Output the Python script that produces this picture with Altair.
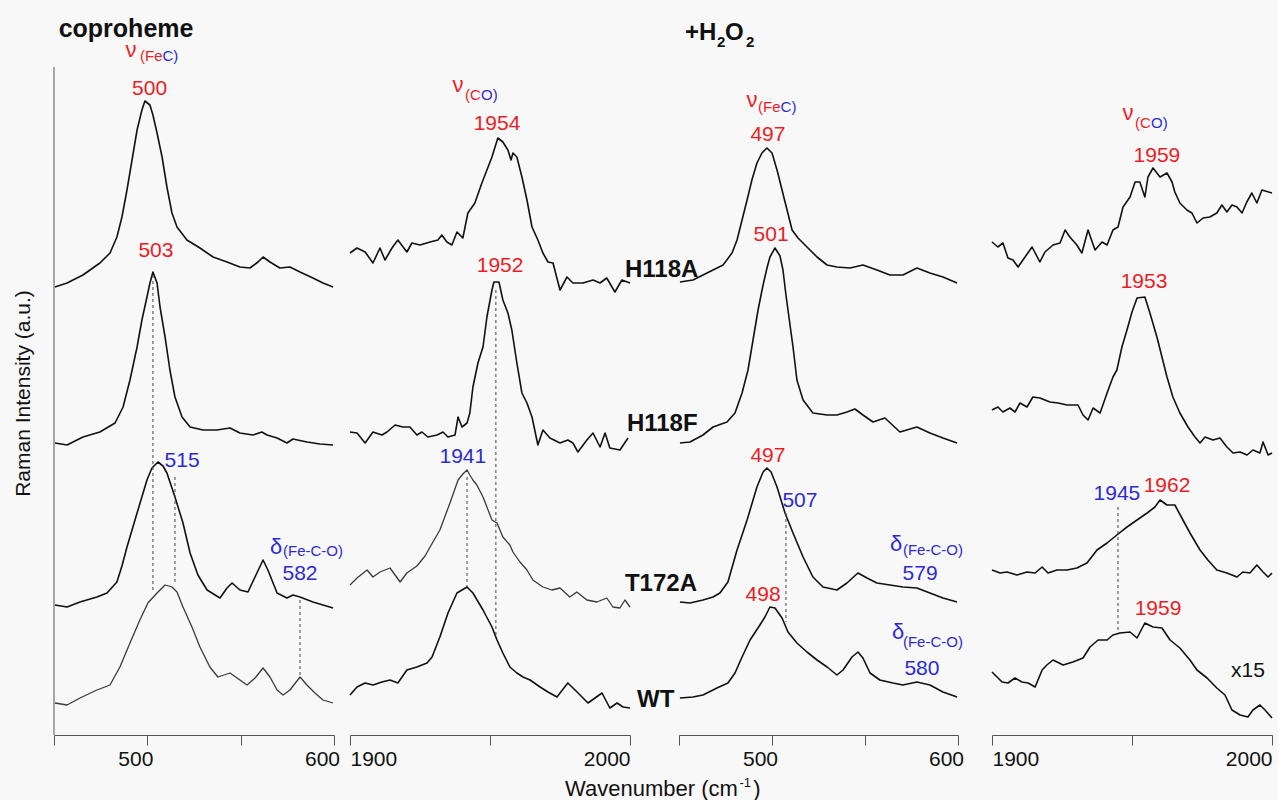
import altair as alt
import pandas as pd

FONT = "Liberation Sans"
RED = "#ec1c24"
BLUE = "#2b2bd3"
INK = "#111111"
AXC = "#555555"

# ---------------- coproheme, 450-600 cm-1 ----------------
cl_H118A_x = [450.5,457,465.5,474.6,480,483.7,486.4,489.1,491.8,494.5,497.1,498.7,501.4,503,505.2,507.9,510.5,513.2,515.9,521.2,528.2,535.2,542.7,549.6,555,559.3,562,565.7,571,576.4,581.8,588.7,594.1,599.5]
cl_H118A_y = [448,452,460,472,482,498,518,545,575,605,625,634,630,620,602,578,548,522,508,495,487,478,473,468,467,473,478,473,467,468,463,457,452,448]
cl_H118F_x = [450.5,457,465.5,474.6,482.7,487,490.7,494.5,497.1,499.8,501.4,503,505.2,506.8,509.5,512.1,514.8,518.6,522.9,529.8,537.3,544.3,549.6,556.6,561.4,564.1,569.5,574.8,578,585.5,592.5,599.5]
cl_H118F_y = [292,290,298,303,312,328,355,388,415,438,452,463,452,428,398,365,338,318,308,305,305,307,302,300,303,300,297,292,296,293,291,290]
cl_T172A_x = [450.5,457,463.9,473,478.4,483.7,486.4,489.1,494.5,499.8,502.5,505.7,508.4,510.5,514.8,519.1,522.9,527.1,532,538.9,542.7,545.4,549.6,553.9,558.7,562,564.6,569.5,574.8,578,581.8,588.7,594.1,599.5]
cl_T172A_y = [130,128,133,138,142,153,169,188,222,255,267,273,269,262,238,212,182,160,145,137,147,152,145,143,162,175,165,142,137,140,138,133,130,127]
cl_WT_x = [450.5,457,463.9,473,480,485.3,490.7,496,500.3,505.2,509.5,513.2,515.9,519.1,523.9,528.2,533.5,537.8,544.3,549.6,553.4,557.7,562,565.7,569.5,572.7,576.4,581.8,585.5,589.8,594.1,599.5]
cl_WT_y = [32,30,37,45,50,68,92,115,132,142,150,148,143,128,108,88,68,58,62,55,50,57,67,58,45,40,45,58,50,42,35,32]

# ---------------- coproheme, 1900-2000 cm-1 ----------------
ch_H118A_x = [1900,1902.5,1905.4,1908.2,1910.7,1912.5,1915,1917.1,1920.3,1922.1,1925,1928.6,1931.4,1932.8,1934.6,1936.4,1938.2,1940.3,1942.1,1944.6,1947.1,1948.9,1950.7,1952.8,1954.6,1956.4,1957.5,1958.2,1959.6,1961.4,1963.2,1965,1967.1,1968.9,1970.7,1972.5,1975,1977.5,1979.6,1983.2,1986.8,1989.3,1991.7,1994.6,1997.1,2000]
ch_H118A_y = [482,487,483,472,487,475,487,495,483,492,490,493,495,500,493,490,503,497,522,532,552,565,578,597,593,585,575,582,578,558,535,508,495,482,473,472,445,458,452,452,455,452,457,443,455,452]
ch_H118F_x = [1900,1902.5,1905.4,1908.2,1911.4,1913.2,1916.1,1918.9,1921.4,1923.9,1925.7,1927.8,1931.1,1933.2,1935,1937.5,1938.6,1940,1941.8,1942.8,1943.9,1945.7,1947.5,1948.9,1950.7,1951.4,1953.2,1954.6,1956.4,1957.8,1959.6,1961.4,1963.2,1965,1967.1,1968.9,1971.4,1975,1977.8,1979.6,1981.4,1984.6,1986.8,1989.3,1991.1,1992.8,1996.4,1999.3]
ch_H118F_y = [303,302,292,303,300,303,310,308,308,300,303,298,300,303,298,300,318,308,312,322,348,372,388,418,445,453,453,435,422,405,372,342,332,318,290,305,297,292,295,292,283,295,302,288,302,287,285,297]
ch_T172A_x = [1900,1902.5,1906.1,1908.2,1910.7,1914.3,1917.9,1920.3,1923.9,1926.8,1928.6,1932.1,1935.7,1938.6,1940.3,1941.8,1942.8,1943.9,1945.3,1947.5,1950.7,1952.5,1954.6,1957.1,1958.2,1960.7,1963.2,1965.3,1968.9,1972.1,1975,1978.5,1981,1984.6,1988.2,1991.7,1993.9,1996.4,1998.2,2000]
ch_T172A_y = [150,157,165,158,163,167,153,162,169,179,188,205,232,255,261,265,260,255,250,238,215,212,198,190,183,173,165,155,148,145,147,138,143,135,133,137,128,127,135,128]
ch_WT_x = [1900,1902.5,1905.4,1908.2,1911.4,1914.3,1917.1,1920.3,1923.9,1927.5,1929.3,1932.1,1935,1938.2,1941.8,1943.9,1947.5,1950.7,1952.5,1954.6,1957.1,1959.6,1961.8,1964.3,1967.9,1970.7,1973.9,1977.8,1981.1,1985,1990,1992.8,1995.4,1997.5,2000]
ch_WT_y = [40,48,52,50,53,55,52,65,68,72,78,98,122,142,148,142,125,108,95,82,68,62,58,55,48,43,38,52,43,32,42,27,32,28,27]

# ---------------- +H2O2, 450-600 cm-1 ----------------
hl_H118A_x = [450.5,457.5,462.9,468.3,473.7,478.5,481.2,483.9,486.6,489.2,491.9,494.6,497.3,500,502.7,505.4,508.1,510.8,514,518.8,524.2,529.6,534.9,541.9,548.9,556.4,563.4,570.4,577.9,584.9,591.9,599.5]
hl_H118A_y = [453,455,460,465,470,482,495,515,535,555,572,582,587,582,565,545,525,505,497,488,478,470,468,467,470,465,460,460,467,462,458,452]
hl_H118F_x = [450.5,455.9,462.9,468.3,475.8,480.1,483.9,487.1,489.8,492.5,495.2,497.3,498.9,501.6,504.3,505.9,507.5,511.3,513.4,516.7,522,529.6,534.9,540.3,544.6,548.9,554.3,560.7,568.8,577.9,584.9,591.9,599.5]
hl_H118F_y = [292,293,300,308,313,322,342,365,395,425,450,467,478,487,479,465,440,388,355,335,322,320,320,323,326,320,313,317,303,308,302,297,292]
hl_T172A_x = [450.5,455.9,462.9,468.3,472,476.3,481.2,486.6,491.9,495.2,497.3,499.5,502.7,507,511.3,516.7,522,527.4,534.9,540.3,546.2,551.1,556.4,563.4,570.4,577.9,584.9,591.9,599.5]
hl_T172A_y = [133,132,135,138,142,153,185,215,248,263,267,263,248,222,202,178,158,148,145,152,162,157,152,150,148,147,142,137,133]
hl_WT_x = [450.5,457.5,462.9,470.4,476.3,480.1,483.9,488.2,493.5,496.2,498.9,501.6,505.4,508.6,513.4,518.8,524.2,529.6,534.9,538.2,543,546.2,548.9,552.7,558,565,570.4,577.9,584.9,591.9,599.5]
hl_WT_y = [37,38,40,47,52,62,78,95,110,118,128,127,117,103,92,83,75,68,60,65,78,83,77,62,55,52,50,53,50,43,38]

# ---------------- +H2O2, 1900-2000 cm-1 ----------------
hh_H118A_x = [1900,1902.1,1903.9,1905.7,1907.5,1909.3,1911.8,1914.3,1917.1,1918.9,1921.8,1924.3,1926.1,1927.8,1930.3,1932.1,1934.3,1936.8,1939.3,1941.1,1943.2,1945,1946.8,1949.3,1951.1,1952.8,1954.6,1955.7,1957.5,1960,1962.5,1964.3,1965.3,1967.1,1969.6,1971.4,1973.2,1975.4,1977.8,1980.3,1982.1,1983.9,1985.7,1987.5,1989.3,1991,1992.8,1994.6,1996.4,2000]
hh_H118A_y = [493,488,492,477,475,468,478,488,473,483,490,492,505,498,490,482,505,485,493,490,505,508,528,538,553,553,538,558,567,558,562,553,543,532,525,522,512,517,518,522,530,523,530,528,522,533,542,532,545,542]
hh_H118F_x = [1900,1902.1,1903.9,1906.4,1908.2,1910,1912.5,1914.6,1917.1,1920.7,1923.6,1926.8,1930.7,1932.5,1934.3,1936.1,1938.6,1941.1,1943.2,1944.6,1946.4,1948.2,1950,1951.8,1954.6,1956.4,1958.9,1960.7,1962.5,1964.6,1967.1,1970,1972.5,1974.3,1976.1,1978.9,1981.4,1983.9,1986.1,1988.6,1991.1,1993.2,1995.7,1996.8,1998.6,2000]
hh_H118F_y = [325,328,323,327,323,332,328,338,337,333,332,330,330,320,315,327,322,342,358,365,388,405,423,437,438,422,398,378,358,338,322,308,298,292,298,295,297,288,282,283,280,285,282,293,280,282]
hh_T172A_x = [1900,1902.9,1905.4,1908.9,1912.5,1915.4,1917.9,1920,1923.2,1926.8,1930.3,1933.9,1937.5,1941.1,1944.6,1948.2,1951.8,1955.4,1958.2,1960,1962.5,1965.3,1968.2,1970.7,1974.3,1977.1,1980.3,1983.9,1987.5,1989.6,1992.1,1994.6,1996.8,1998.6,2000]
hh_T172A_y = [165,162,163,160,163,162,168,162,165,165,167,172,185,192,200,208,215,222,228,235,230,230,215,202,185,175,165,162,158,163,162,170,163,158,162]
hh_WT_x = [1900,1901.8,1903.6,1905.7,1908.2,1910.7,1912.9,1915.4,1917.9,1919.6,1921.8,1925.4,1928.9,1932.5,1935,1937.9,1941.1,1943.2,1945.7,1949.3,1951.8,1954.6,1957.5,1960.7,1963.6,1967.1,1970.7,1973.2,1976.8,1980.3,1983.2,1985.7,1988.6,1991.4,1993.2,1995.7,1997.5,2000]
hh_WT_y = [63,58,53,52,57,53,52,48,65,70,75,70,73,77,88,95,95,100,102,103,97,112,108,107,95,87,75,65,57,47,40,25,20,18,25,30,25,17]

# dashed guide lines: (wavenumber, upper intensity, lower intensity)
guides_cl = [(503, 460, 142), (514.8, 258, 150), (581.8, 135, 58)]
guides_ch = [(1941.8, 258, 148), (1952.1, 445, 98)]
guides_hl = [(507.5, 222, 113)]
guides_hh = [(1945, 228, 103)]

# annotations: (text, wavenumber, intensity, color, size, weight, align)
notes_cl = [
    ("coproheme", 488.6, 698, INK, 25, "bold", "center"),
    ("\u03bd", 491.3, 678, RED, 22, "normal", "center"),
    ("(Fe", 496.1, 674, RED, 15, "normal", "left"),
    ("C)", 508.1, 674, BLUE, 15, "normal", "left"),
    ("500", 501.2, 640, RED, 21, "normal", "center"),
    ("503", 504.6, 478, RED, 21, "normal", "center"),
    ("515", 518.6, 268, BLUE, 21, "normal", "center"),
    ("\u03b4", 565.7, 181, BLUE, 22, "normal", "left"),
    ("(Fe-C-O)", 572.7, 179, BLUE, 15, "normal", "left"),
    ("582", 581.8, 155, BLUE, 21, "normal", "center"),
]
notes_ch = [
    ("\u03bd", 1938.6, 643, RED, 22, "normal", "center"),
    ("(C", 1941.1, 635, RED, 15, "normal", "left"),
    ("O)", 1946.8, 635, BLUE, 15, "normal", "left"),
    ("1954", 1952.5, 605, RED, 21, "normal", "center"),
    ("1952", 1953.6, 463, RED, 21, "normal", "center"),
    ("1941", 1940.3, 272, BLUE, 21, "normal", "center"),
    ("H118A", 1998.2, 458, INK, 24, "bold", "left"),
    ("H118F", 1998.9, 304, INK, 24, "bold", "left"),
    ("T172A", 1998.2, 144, INK, 24, "bold", "left"),
    ("WT", 2002.5, 28, INK, 24, "bold", "left"),
    ("Wavenumber (cm", 1976.8, -61, INK, 22, "normal", "left"),
    ("-1", 2039.1, -52, INK, 13, "normal", "left"),
    (")", 2044.0, -61, INK, 22, "normal", "left"),
]
notes_hl = [
    ("+H", 453.2, 695, INK, 24, "bold", "left"),
    ("2", 470.4, 688, INK, 15, "bold", "left"),
    ("O", 474.7, 695, INK, 24, "bold", "left"),
    ("2", 486.0, 688, INK, 15, "bold", "left"),
    ("\u03bd", 489.2, 628, RED, 22, "normal", "center"),
    ("(Fe", 492.5, 623, RED, 15, "normal", "left"),
    ("C)", 504.6, 623, BLUE, 15, "normal", "left"),
    ("497", 497.8, 594, RED, 21, "normal", "center"),
    ("501", 499.5, 494, RED, 21, "normal", "center"),
    ("497", 497.8, 273, RED, 21, "normal", "center"),
    ("507", 515.0, 228, BLUE, 21, "normal", "center"),
    ("\u03b4", 563.4, 184, BLUE, 22, "normal", "left"),
    ("(Fe-C-O)", 570.4, 180, BLUE, 15, "normal", "left"),
    ("579", 579.6, 155, BLUE, 21, "normal", "center"),
    ("\u03b4", 564.5, 96, BLUE, 22, "normal", "left"),
    ("(Fe-C-O)", 570.4, 88, BLUE, 15, "normal", "left"),
    ("580", 580.6, 60, BLUE, 21, "normal", "center"),
    ("498", 495.2, 134, RED, 21, "normal", "center"),
]
notes_hh = [
    ("\u03bd", 1948.6, 615, RED, 22, "normal", "center"),
    ("(C", 1951.1, 607, RED, 15, "normal", "left"),
    ("O)", 1956.8, 607, BLUE, 15, "normal", "left"),
    ("1959", 1958.9, 573, RED, 21, "normal", "center"),
    ("1953", 1954.3, 447, RED, 21, "normal", "center"),
    ("1945", 1944.6, 235, BLUE, 21, "normal", "center"),
    ("1962", 1962.5, 243, RED, 21, "normal", "center"),
    ("1959", 1959.3, 120, RED, 21, "normal", "center"),
    ("x15", 1991.4, 58, INK, 21, "normal", "center"),
]

YDOM = [0, 725]
PANEL_H = 725


def trace_df(xs, ys, name, color, sw):
    n = min(len(xs), len(ys))
    return pd.DataFrame({"w": xs[:n], "I": ys[:n], "trace": name, "col": color, "sw": sw})


def panel(xdom, width, tick_vals, label_vals, flush, loff, traces, notes, guides, ytitle=False):
    cond = " || ".join("datum.value == %g" % v for v in label_vals)
    xaxis = alt.Axis(values=tick_vals, format="d", labelExpr="(%s) ? datum.label : ''" % cond,
                     title=None, grid=False, tickSize=10, tickColor=AXC, domainColor=AXC,
                     labelFont=FONT, labelFontSize=21, labelColor=INK, labelPadding=3,
                     labelFlush=flush, labelOffset=loff, labelOverlap=False, labelBound=False)
    if ytitle:
        yaxis = alt.Axis(title="Raman Intensity (a.u.)", domain=False, ticks=False, labels=False,
                         grid=False, titleFont=FONT, titleFontSize=21, titleFontWeight="normal",
                         titleColor=INK, titlePadding=21, titleY=383)
    else:
        yaxis = None
    xs = alt.Scale(domain=xdom, nice=False, zero=False)
    ys = alt.Scale(domain=YDOM, nice=False, zero=False)

    def X():
        return alt.X("w:Q", scale=xs, axis=xaxis)

    def Y(f="I"):
        return alt.Y(f + ":Q", scale=ys, axis=yaxis)

    df = pd.concat(traces, ignore_index=True)
    layers = [alt.Chart(df).mark_line(strokeJoin="round").encode(
        x=X(), y=Y(), detail="trace:N",
        color=alt.Color("col:N", scale=None),
        strokeWidth=alt.StrokeWidth("sw:Q", scale=None))]
    gdf = pd.DataFrame(guides, columns=["w", "I", "I2"])
    layers.append(alt.Chart(gdf).mark_rule(strokeDash=[3, 3], color="#444444", strokeWidth=1).encode(
        x=X(), y=Y(), y2="I2:Q"))
    if ytitle:
        adf = pd.DataFrame({"w": [xdom[0]], "I": [668], "I2": [0]})
        layers.append(alt.Chart(adf).mark_rule(color=AXC, strokeWidth=1).encode(
            x=X(), y=Y(), y2="I2:Q"))
    for (t, w, i, c, s, fw, al) in notes:
        tdf = pd.DataFrame({"w": [w], "I": [i], "t": [t]})
        layers.append(alt.Chart(tdf).mark_text(font=FONT, fontSize=s, fontWeight=fw, color=c,
                                               align=al, baseline="alphabetic").encode(
            x=X(), y=Y(), text="t:N"))
    return alt.layer(*layers).properties(width=width, height=PANEL_H)


def spacer(width):
    sdf = pd.DataFrame({"a": [0]})
    return alt.Chart(sdf).mark_point(opacity=0).encode(
        x=alt.X("a:Q", axis=None), y=alt.Y("a:Q", axis=None)
    ).properties(width=width, height=PANEL_H)


GREY = "#3a3a3a"
p1 = panel([450, 600], 280, [450, 500, 550, 600], [500, 600], False, -12,
           [trace_df(cl_H118A_x, cl_H118A_y, "H118A", INK, 1.6),
            trace_df(cl_H118F_x, cl_H118F_y, "H118F", INK, 1.6),
            trace_df(cl_T172A_x, cl_T172A_y, "T172A", INK, 1.6),
            trace_df(cl_WT_x, cl_WT_y, "WT", GREY, 1.3)],
           notes_cl, guides_cl, ytitle=True)
p2 = panel([1900, 2000], 280, [1900, 1950, 2000], [1900, 2000], True, 0,
           [trace_df(ch_H118A_x, ch_H118A_y, "H118A", INK, 1.6),
            trace_df(ch_H118F_x, ch_H118F_y, "H118F", INK, 1.6),
            trace_df(ch_T172A_x, ch_T172A_y, "T172A", GREY, 1.3),
            trace_df(ch_WT_x, ch_WT_y, "WT", INK, 1.6)],
           notes_ch, guides_ch)
p3 = panel([450, 600], 279, [450, 500, 550, 600], [500, 600], False, -12,
           [trace_df(hl_H118A_x, hl_H118A_y, "H118A", INK, 1.6),
            trace_df(hl_H118F_x, hl_H118F_y, "H118F", INK, 1.6),
            trace_df(hl_T172A_x, hl_T172A_y, "T172A", INK, 1.6),
            trace_df(hl_WT_x, hl_WT_y, "WT", INK, 1.6)],
           notes_hl, guides_hl)
p4 = panel([1900, 2000], 280, [1900, 1950, 2000], [1900, 2000], True, 0,
           [trace_df(hh_H118A_x, hh_H118A_y, "H118A", INK, 1.6),
            trace_df(hh_H118F_x, hh_H118F_y, "H118F", INK, 1.6),
            trace_df(hh_T172A_x, hh_T172A_y, "T172A", INK, 1.6),
            trace_df(hh_WT_x, hh_WT_y, "WT", INK, 1.6)],
           notes_hh, guides_hh)

chart = alt.hconcat(p1, spacer(16), p2, spacer(49), p3, spacer(34), p4,
                    spacing=0, bounds="flush").properties(
    padding={"left": 12, "top": 10, "right": 5, "bottom": 0},
    background="#f8f8f8",
).configure_view(stroke=None)

chart.save("out.html", embed_options={"renderer": "svg", "actions": False})
